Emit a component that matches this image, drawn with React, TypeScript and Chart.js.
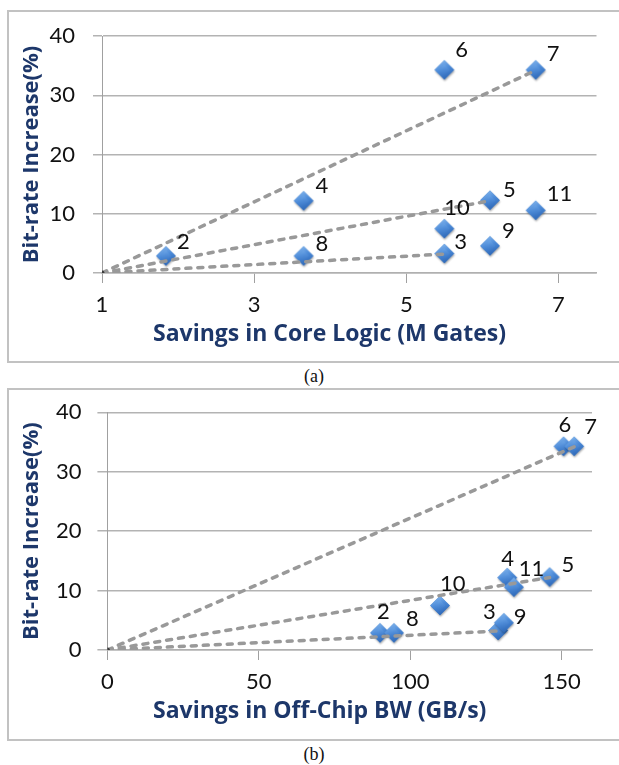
import React, { useEffect, useRef } from 'react';
import { Chart, registerables } from 'chart.js';

Chart.register(...registerables);

// ---------- data ----------
const pointIds = ['2', '3', '4', '5', '6', '7', '8', '9', '10', '11'];
const bitRateIncrease = [2.8, 3.2, 12.1, 12.2, 34.2, 34.2, 2.8, 4.5, 7.4, 10.5];
const coreLogicSavings = [1.84, 5.5, 3.65, 6.1, 5.5, 6.7, 3.65, 6.1, 5.5, 6.7];
const offChipBwSavings = [90, 129, 132, 146, 150.6, 154.1, 94.6, 130.9, 109.8, 134.2];
const trendLineEnds = ['7', '5', '3'];
const coreLogicOrigin = 1;
const offChipOrigin = 0;
const coreLogicTicks = [1, 3, 5, 7];
const offChipTicks = [0, 50, 100, 150];
const bitRateTicks = [0, 10, 20, 30, 40];
const coreLogicRange = [1, 7.5];
const offChipRange = [0, 160];
const bitRateRange = [0, 40];
const yTitle = 'Bit-rate Increase(%)';
const xTitleA = 'Savings in Core Logic (M Gates)';
const xTitleB = 'Savings in Off-Chip BW (GB/s)';

// ---------- styles ----------
const NAVY = '#1d376a';
const FONT = 'Lato, "Open Sans", sans-serif';
const TITLE_FONT = '"Open Sans", Lato, sans-serif';
const labelOffsetsA = [[11, -15], [10, -12.5], [12, -15], [13, -11], [11, -20], [11, -16], [12, -13], [12, -15], [0, -21], [11, -17]];
const labelOffsetsB = [[-3, -21.5], [-15, -19], [-6, -19], [12, -13], [-5, -22], [10, -20], [12, -14.5], [10, -6], [0, -22.5], [5, -19]];

function makeDiamond(): HTMLCanvasElement {
  const c = document.createElement('canvas');
  c.width = 26;
  c.height = 26;
  const g = c.getContext('2d') as CanvasRenderingContext2D;
  const cx = 13, cy = 12.5, r = 9.8;
  const path = (rr: number) => {
    g.beginPath();
    g.moveTo(cx - rr, cy);
    g.lineTo(cx, cy - rr);
    g.lineTo(cx + rr, cy);
    g.lineTo(cx, cy + rr);
    g.closePath();
  };
  g.save();
  g.shadowColor = 'rgba(0,0,0,0.35)';
  g.shadowBlur = 2;
  g.shadowOffsetY = 1.5;
  g.shadowOffsetX = 0.5;
  path(r);
  g.fillStyle = '#3a76c4';
  g.fill();
  g.restore();
  const grad = g.createLinearGradient(cx - r * 0.4, cy - r, cx + r * 0.4, cy + r);
  grad.addColorStop(0, '#86b8ee');
  grad.addColorStop(0.45, '#4c8bd9');
  grad.addColorStop(1, '#2a63b2');
  path(r);
  g.fillStyle = grad;
  g.fill();
  path(r * 0.55);
  const g2 = g.createLinearGradient(cx, cy - r * 0.55, cx, cy + r * 0.55);
  g2.addColorStop(0, 'rgba(120,175,235,0.45)');
  g2.addColorStop(1, 'rgba(60,120,200,0.2)');
  g.fillStyle = g2;
  g.fill();
  return c;
}

type PanelCfg = {
  xs: number[];
  xRange: number[];
  xTicks: number[];
  origin: number;
  offsets: number[][];
  xTitle: string;
  padTop: number;
  padRight: number;
  yAxisWidth: number;
  xAxisHeight: number;
  yTickPad: number;
  yTickLen: number;
  xTitleLeft: number;
  xTitleY: number;
};

function Panel({ cfg }: { cfg: PanelCfg }) {
  const ref = useRef<HTMLCanvasElement>(null);
  useEffect(() => {
    if (!ref.current) return;
    const diamond = makeDiamond();
    const points = pointIds.map((_, i) => ({ x: cfg.xs[i], y: bitRateIncrease[i] }));
    const lineSets = trendLineEnds.map((id, k) => {
      const i = pointIds.indexOf(id);
      return {
        type: 'scatter' as const,
        data: [{ x: cfg.origin, y: 0 }, { x: cfg.xs[i], y: bitRateIncrease[i] }],
        showLine: true,
        borderColor: '#999999',
        borderWidth: 3.5,
        borderDash: [5, 7],
        borderCapStyle: 'round' as const,
        pointRadius: k === 0 ? [2.5, 0] : 0,
        pointBackgroundColor: '#3a3a3a',
        pointBorderWidth: 0,
      };
    });
    const labelPlugin = {
      id: 'pointLabels',
      afterDatasetsDraw(chart: any) {
        const ctx = chart.ctx as CanvasRenderingContext2D;
        const meta = chart.getDatasetMeta(3);
        ctx.save();
        ctx.font = `22px ${FONT}`;
        ctx.fillStyle = '#111';
        ctx.textAlign = 'left';
        ctx.textBaseline = 'middle';
        meta.data.forEach((el: any, i: number) => {
          const o = cfg.offsets[i];
          ctx.fillText(pointIds[i], el.x + o[0], el.y + o[1]);
        });
        ctx.font = `bold 23px ${TITLE_FONT}`;
        ctx.fillStyle = NAVY;
        ctx.fillText(cfg.xTitle, cfg.xTitleLeft, chart.chartArea.bottom + cfg.xTitleY);
        ctx.restore();
      },
    };
    const chart = new Chart(ref.current, {
      type: 'scatter',
      data: {
        datasets: [
          ...lineSets,
          {
            type: 'scatter',
            data: points,
            pointStyle: diamond,
            pointRadius: 10,
            showLine: false,
          } as any,
        ],
      },
      options: {
        animation: false,
        responsive: false,
        events: [],
        layout: { padding: { left: 0, top: cfg.padTop, right: cfg.padRight, bottom: 0 } },
        plugins: { legend: { display: false }, tooltip: { enabled: false } },
        scales: {
          x: {
            type: 'linear',
            min: cfg.xRange[0],
            max: cfg.xRange[1],
            afterBuildTicks: (s: any) => {
              s.ticks = cfg.xTicks.map((v) => ({ value: v }));
            },
            afterFit: (s: any) => {
              s.height = cfg.xAxisHeight;
              s.paddingLeft = 0;
              s.paddingRight = 0;
            },
            grid: { drawOnChartArea: false, drawTicks: true, tickLength: 10, color: '#a0a0a0', lineWidth: 1 },
            border: { display: true, color: '#b0b0b0', width: 1.5 },
            ticks: { font: { family: FONT, size: 22 }, color: '#111', padding: 9, maxRotation: 0 },
          },
          y: {
            type: 'linear',
            min: bitRateRange[0],
            max: bitRateRange[1],
            afterBuildTicks: (s: any) => {
              s.ticks = bitRateTicks.map((v) => ({ value: v }));
            },
            afterFit: (s: any) => {
              s.width = cfg.yAxisWidth;
              s.paddingTop = 0;
              s.paddingBottom = 0;
            },
            grid: { color: '#b3b3b3', lineWidth: 1.5, tickLength: cfg.yTickLen, drawTicks: true },
            border: { display: true, color: '#a0a0a0', width: 1 },
            ticks: { font: { family: FONT, size: 22 }, color: '#111', padding: cfg.yTickPad },
            title: {
              display: true,
              text: yTitle,
              color: NAVY,
              font: { family: TITLE_FONT, size: 22, weight: 'bold' },
              padding: { top: 10, bottom: 0 },
            },
          },
        },
      },
      plugins: [labelPlugin],
    } as any);
    return () => chart.destroy();
  }, [cfg]);
  return <canvas ref={ref} width={610} height={349} style={{ display: 'block', width: 610, height: 349 }} />;
}

const cfgA: PanelCfg = {
  xs: coreLogicSavings,
  xRange: coreLogicRange,
  xTicks: coreLogicTicks,
  origin: coreLogicOrigin,
  offsets: labelOffsetsA,
  xTitle: xTitleA,
  padTop: 24,
  padRight: 22.5,
  yAxisWidth: 93,
  xAxisHeight: 88,
  yTickPad: 18,
  yTickLen: 9,
  xTitleLeft: 144,
  xTitleY: 61,
};

const cfgB: PanelCfg = {
  xs: offChipBwSavings,
  xRange: offChipRange,
  xTicks: offChipTicks,
  origin: offChipOrigin,
  offsets: labelOffsetsB,
  xTitle: xTitleB,
  padTop: 22.3,
  padRight: 27,
  yAxisWidth: 98.4,
  xAxisHeight: 89,
  yTickPad: 16,
  yTickLen: 10,
  xTitleLeft: 144,
  xTitleY: 61,
};

const boxStyle = (top: number): React.CSSProperties => ({
  position: 'absolute',
  left: 7,
  top,
  width: 660,
  height: 353,
  border: '2px solid #c2c2c2',
  boxSizing: 'border-box',
  pointerEvents: 'none',
});

const captionStyle = (top: number): React.CSSProperties => ({
  position: 'absolute',
  left: 264,
  width: 100,
  top,
  textAlign: 'center',
  fontFamily: '"Liberation Serif", "Times New Roman", serif',
  fontSize: 18,
  lineHeight: '20px',
  color: '#111',
});

export default function App() {
  return (
    <div style={{ position: 'absolute', left: 0, top: 0, width: 619, height: 765, overflow: 'hidden', background: '#fff' }}>
      <div style={{ position: 'absolute', left: 9, top: 12 }}>
        <Panel cfg={cfgA} />
      </div>
      <div style={boxStyle(10)} />
      <div style={captionStyle(366)}>(a)</div>
      <div style={{ position: 'absolute', left: 9, top: 390 }}>
        <Panel cfg={cfgB} />
      </div>
      <div style={boxStyle(388)} />
      <div style={captionStyle(744)}>(b)</div>
    </div>
  );
}
